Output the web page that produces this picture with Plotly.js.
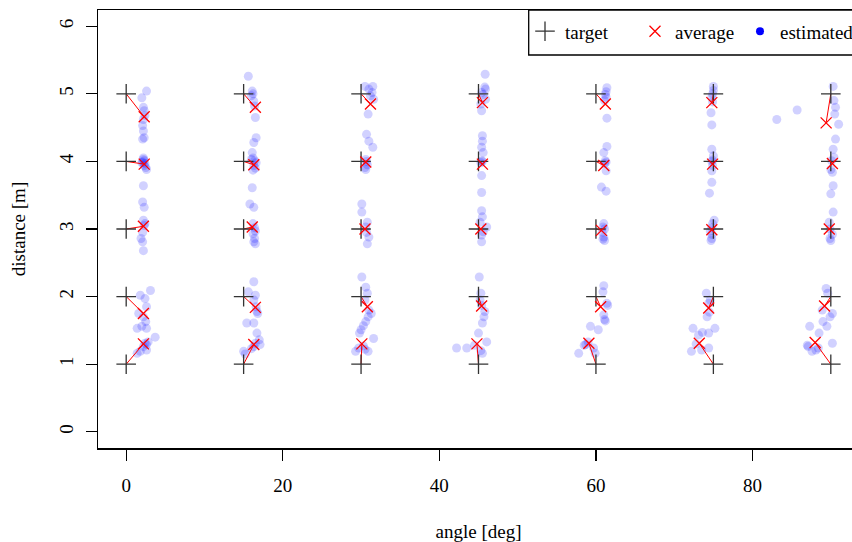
<!DOCTYPE html>
<html>
<head>
<meta charset="utf-8">
<script src="https://cdn.plot.ly/plotly-3.0.1.min.js"></script>
<style>
  html, body { margin: 0; padding: 0; overflow: hidden; background: #fff; }
  #chart { width: 880px; height: 542px; }
</style>
</head>
<body>
<div id="chart"></div>
<script>
// ---- data ----
const targetAngles = [0, 15, 30, 45, 60, 75, 90];
const targetDists = [1, 2, 3, 4, 5];

// averages, per angle, for distances 1..5
const avgX0 = [2.2, 2.2, 2.2, 2.3, 2.3];    const avgY0 = [1.30, 1.75, 3.04, 3.96, 4.66];
const avgX15 = [16.3, 16.5, 16.1, 16.3, 16.5]; const avgY15 = [1.29, 1.84, 3.03, 3.95, 4.80];
const avgX30 = [30.1, 30.8, 30.5, 30.6, 31.2]; const avgY30 = [1.30, 1.85, 3.00, 3.99, 4.85];
const avgX45 = [44.8, 45.4, 45.3, 45.5, 45.5]; const avgY45 = [1.30, 1.86, 3.00, 3.96, 4.87];
const avgX60 = [59.1, 60.6, 60.7, 61.0, 61.2]; const avgY60 = [1.31, 1.85, 2.98, 3.94, 4.85];
const avgX75 = [73.2, 74.4, 74.8, 74.9, 74.8]; const avgY75 = [1.31, 1.83, 2.99, 3.96, 4.87];
const avgX90 = [88.0, 89.2, 89.8, 90.2, 89.4]; const avgY90 = [1.32, 1.86, 3.00, 3.97, 4.57];

// estimated points, per target angle
const estX0 = [2.6,2.0,2.2,2.3,2.4,2.1,2.2,2.3,2.1,2.2, 2.2,2.3,2.1,2.4,2.3,2.5,2.6,2.2,2.0, 2.2,2.1,2.3,2.2,2.4,2.3,2.1,1.9,2.1,2.2, 3.1,1.8,2.4,2.6,1.6,2.2,2.5,2.0,1.4,2.6, 3.7,2.6,2.2,1.8,1.4,2.6,2.4,2.8];
const estY0 = [5.04,4.94,4.80,4.75,4.68,4.53,4.45,4.35,4.33,4.62, 4.03,4.01,3.99,3.97,3.94,3.91,3.88,4.05,3.98, 3.64,3.40,3.32,3.13,3.08,3.05,2.95,2.86,2.81,2.68, 2.09,2.02,1.97,1.85,1.75,1.70,1.63,1.56,1.53,1.53, 1.40,1.29,1.26,1.19,1.16,1.21,1.31,1.33];

const estX15 = [15.6,16.1,16.2,16.0,16.3,16.4,16.5,16.6,16.3, 16.1,16.2,16.0,16.4,16.6,16.3,16.5,16.2, 16.1,15.8,16.3,16.2,16.4,16.5,16.2,16.4,16.3,16.5, 16.3,15.6,16.5,16.3,16.6,16.7,16.8,15.4,16.3,16.7, 17.1,16.3,15.0,15.2,16.0,16.5,17.0];
const estY15 = [5.26,5.04,5.00,4.97,4.89,4.82,4.65,4.35,4.28, 4.13,4.05,4.03,4.01,3.98,3.94,3.90,3.87, 3.61,3.37,3.32,3.08,3.02,2.97,2.93,2.86,2.81,2.78, 2.22,2.07,2.02,1.95,1.85,1.78,1.75,1.61,1.61,1.46, 1.29,1.26,1.19,1.15,1.23,1.31,1.36];

const estX30 = [30.5,31.5,31.0,31.4,31.6,30.9,31.2, 30.7,31.0,31.5,30.6,30.7,30.5,30.6,30.8, 30.1,30.1,30.8,30.6,31.0,30.8,30.7, 30.1,30.6,30.8,30.5,31.0,31.3,30.6,30.9,30.3, 30.0,29.8,31.6,30.3,29.7,29.3,30.9,30.5];
const estY30 = [5.11,5.11,5.07,5.02,4.92,4.70,4.97, 4.40,4.30,4.21,4.03,4.00,3.91,3.88,3.95, 3.37,3.25,3.10,3.03,2.88,2.78,2.95, 2.29,2.14,2.05,1.95,1.80,1.75,1.63,1.70,1.57, 1.51,1.46,1.38,1.27,1.24,1.19,1.19,1.22];

const estX45 = [45.85,45.8,45.9,45.4,45.6,45.9,45.3,45.4, 45.5,45.5,45.4,45.6,45.4,45.5,45.3,45.4,45.4, 45.4,45.5,45.2,46.05,45.4,45.4,45.6, 45.1,45.3,45.4,45.8,45.5,45.7,45.2, 45.0,46.05,42.2,43.5,45.5,44.5,45.3];
const estY45 = [5.29,5.10,5.07,5.02,4.99,4.92,4.85,4.75, 4.38,4.30,4.21,4.13,4.01,4.00,3.98,3.79,3.54, 3.27,3.18,3.10,3.03,2.91,2.81,2.96, 2.29,2.05,1.87,1.78,1.61,1.70,1.95, 1.46,1.33,1.24,1.24,1.16,1.28,1.20];

const estX60 = [61.4,61.3,61.2,61.3,61.1,61.4, 61.4,61.0,61.2,61.3,61.1,61.3,60.7,61.3, 61.0,60.9,61.1,60.8,61.0,61.1,60.9, 61.0,60.9,61.4,61.5,61.0,61.1,61.2,59.3,60.3, 58.7,57.8,59.7,59.9,59.0,58.5];
const estY60 = [5.09,5.03,4.99,4.95,4.90,4.64, 4.22,4.13,4.01,3.99,3.97,3.86,3.62,3.56, 3.08,3.03,3.00,2.95,2.88,2.83,2.85, 2.16,2.07,1.90,1.87,1.73,1.66,1.64,1.56,1.51, 1.29,1.16,1.24,1.16,1.33,1.28];

const estX75 = [75.0,75.0,74.9,74.8,74.9,74.7,74.8, 74.8,75.0,74.9,74.8,74.9,74.8,74.8,74.5, 75.1,74.9,74.8,74.6,74.8,74.8,74.7, 74.1,74.4,74.6,74.2,74.5,75.2, 72.4,73.1,74.4,72.2,74.4,73.5,73.6,72.8];
const estY75 = [5.11,5.05,5.00,4.95,4.88,4.72,4.54, 4.18,4.08,4.02,4.00,3.94,3.86,3.69,3.53, 3.13,3.08,3.02,2.97,2.92,2.86,2.83, 2.05,1.90,1.95,1.70,1.77,1.53, 1.53,1.43,1.46,1.19,1.24,1.21,1.47,1.30];

const estX90 = [90.3,90.6,90.5,91.0,85.7,83.1,90.4, 90.6,90.3,90.4,90.1,90.0,90.2,90.3,90.0, 90.3,89.8,89.9,89.9,90.0,90.2, 89.4,89.6,88.9,90.2,89.0,89.5,87.3,88.5,89.9, 90.2,87.1,87.6,88.1,87.0,88.4];
const estY90 = [5.11,4.80,4.70,4.55,4.76,4.62,4.90, 4.33,4.18,4.06,4.01,3.88,3.84,3.64,3.52, 3.25,3.10,3.00,2.86,2.83,2.92, 2.12,2.05,1.80,1.75,1.63,1.56,1.56,1.46,1.70, 1.31,1.26,1.19,1.21,1.28,1.24];

const legendLabels = ['target', 'average', 'estimated'];
const xTicks = [0, 20, 40, 60, 80];
const yTicks = [0, 1, 2, 3, 4, 5, 6];

// ---- build traces ----
const estX = [].concat(estX0, estX15, estX30, estX45, estX60, estX75, estX90);
const estY = [].concat(estY0, estY15, estY30, estY45, estY60, estY75, estY90);
const avgXs = [avgX0, avgX15, avgX30, avgX45, avgX60, avgX75, avgX90];
const avgYs = [avgY0, avgY15, avgY30, avgY45, avgY60, avgY75, avgY90];

const tX = [], tY = [], aX = [], aY = [], lX = [], lY = [];
targetAngles.forEach((ang, i) => {
  targetDists.forEach((d, j) => {
    tX.push(ang); tY.push(d);
    aX.push(avgXs[i][j]); aY.push(avgYs[i][j]);
    lX.push(ang, avgXs[i][j], null);
    lY.push(d, avgYs[i][j], null);
  });
});

const FONT = 'Liberation Serif';

const traces = [
  { type: 'scatter', mode: 'markers', x: estX, y: estY, showlegend: false, hoverinfo: 'skip',
    marker: { symbol: 'circle', size: 9, color: 'rgba(0,0,255,0.18)', line: { width: 0 } } },
  { type: 'scatter', mode: 'lines', x: lX, y: lY, showlegend: false, hoverinfo: 'skip',
    line: { color: '#ff0000', width: 1 } },
  { type: 'scatter', mode: 'markers', x: tX, y: tY, name: legendLabels[0], legend: 'legend',
    marker: { symbol: 'cross-thin', size: 14, color: '#333', line: { color: '#333', width: 1.3 } } },
  { type: 'scatter', mode: 'markers', x: aX, y: aY, name: legendLabels[1], legend: 'legend',
    marker: { symbol: 'x-thin', size: 11, color: '#ff0000', line: { color: '#ff0000', width: 1.3 } } },
  { type: 'scatter', mode: 'markers', x: [null], y: [null], name: legendLabels[2], legend: 'legend2',
    marker: { symbol: 'circle', size: 8, color: '#0000ff' } }
];

const plotW = 880, L = 98, R = 859, T = 10, B = 448;
const legFont = { family: FONT, size: 19, color: '#000' };
const legY = 0.9946;
const layout = {
  width: plotW, height: 542,
  margin: { l: L, r: plotW - R, t: T, b: 542 - B, pad: 0 },
  paper_bgcolor: '#fff', plot_bgcolor: '#fff',
  font: { family: FONT, size: 19, color: '#000' },
  xaxis: {
    range: [-3.6, 93.6], tickvals: xTicks, ticktext: xTicks.map(String),
    showgrid: false, zeroline: false, showline: true, mirror: true,
    linecolor: '#000', linewidth: 1.5, ticks: 'outside', ticklen: 11, tickwidth: 1.3, tickcolor: '#000',
    ticklabelstandoff: 9,
    title: { text: 'angle [deg]', standoff: 33, font: { family: FONT, size: 19 } }
  },
  yaxis: {
    range: [-0.24, 6.24], tickvals: yTicks, ticktext: yTicks.map(String), tickangle: -90,
    showgrid: false, zeroline: false, showline: true, mirror: true,
    linecolor: '#000', linewidth: 1.5, ticks: 'outside', ticklen: 11, tickwidth: 1.3, tickcolor: '#000',
    ticklabelstandoff: 5,
    title: { text: 'distance [m]', standoff: 25, font: { family: FONT, size: 19 } }
  },
  legend: {
    orientation: 'h', x: (525 - L) / (R - L), xanchor: 'left', y: legY, yanchor: 'top',
    bgcolor: 'rgba(0,0,0,0)', borderwidth: 0, entrywidth: 65, entrywidthmode: 'pixels',
    font: legFont, itemclick: false
  },
  legend2: {
    orientation: 'h', x: (740 - L) / (R - L), xanchor: 'left', y: legY, yanchor: 'top',
    bgcolor: 'rgba(0,0,0,0)', borderwidth: 0,
    font: legFont, itemclick: false
  },
  shapes: [
    { type: 'rect', xref: 'paper', yref: 'paper', x0: (528.7 - L) / (R - L), x1: 1.02, y0: (B - 55) / (B - T), y1: 1,
      line: { color: '#000', width: 1.3 }, fillcolor: 'rgba(0,0,0,0)', layer: 'above' }
  ],
  showlegend: true
};

Plotly.newPlot('chart', traces, layout, { displayModeBar: false, staticPlot: true });
</script>
</body>
</html>
